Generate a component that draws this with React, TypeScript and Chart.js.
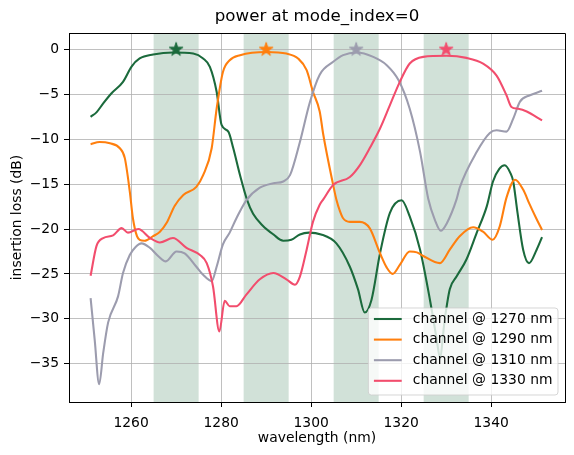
import React, { useEffect, useRef } from 'react';
import { Chart, registerables } from 'chart.js';

Chart.register(...registerables);

const FONT = "'DejaVu Sans', 'Liberation Sans', sans-serif";

// axis limits and ticks
const xLimits = [1246.2, 1356.4];
const yLimits = [-39.27, 1.84];
const xTicks = [1260, 1280, 1300, 1320, 1340];
const yTicks = [0, -5, -10, -15, -20, -25, -30, -35];

// shaded channel bands (nm)
const bandStarts = [1265, 1285, 1305, 1325];
const bandEnds = [1275, 1295, 1315, 1335];

// channel centres and marker values
const channelCenters = [1270, 1290, 1310, 1330];
const markerValues = [0, 0, 0, 0];
const seriesLabels = ['channel @ 1270 nm', 'channel @ 1290 nm', 'channel @ 1310 nm', 'channel @ 1330 nm'];
const seriesColors = ['#1b6a3c', '#ff7f0e', '#9c9cae', '#f24d6d'];

// series: channel @ 1270 nm
const wl1270 = [1251, 1252.3, 1253.8, 1255.6, 1258.2, 1260.1, 1261.9, 1264.9, 1269.3, 1273.8, 1276, 1277.5, 1279, 1280.1, 1281.6, 1282.7, 1284.2, 1285.8, 1287.1, 1289.2, 1291.6, 1293.8, 1295.6, 1297.5, 1299.5, 1302.2, 1305.6, 1308.6, 1310.4, 1311.9, 1313.4, 1315.3, 1317.5, 1320.1, 1321.9, 1324.2, 1326.4, 1327.9, 1328.6, 1329.7, 1330.8, 1332.3, 1334.5, 1336.8, 1339, 1340.4, 1341.8, 1343, 1344.3, 1344.9, 1345.8, 1347.1, 1348.4, 1350.1, 1351.3];
const il1270 = [-7.5, -7.0, -6.0, -4.9, -3.6, -1.9, -1.0, -0.56, -0.33, -0.45, -1.0, -1.93, -4.7, -8.4, -9.15, -11.0, -14.0, -16.8, -18.3, -19.6, -20.6, -21.3, -21.2, -20.6, -20.4, -20.6, -21.6, -24.2, -26.7, -29.3, -27.9, -22.7, -18.2, -16.8, -18.6, -22.3, -27.9, -32.3, -34.3, -30.0, -26.7, -25.3, -23.4, -20.4, -17.5, -14.7, -13.3, -12.9, -13.8, -14.7, -18.0, -22.3, -23.8, -22.3, -20.9];

// series: channel @ 1290 nm
const wl1290 = [1251, 1253, 1255.3, 1257.5, 1258.6, 1259.7, 1260.4, 1261.3, 1261.9, 1263, 1264.9, 1266.4, 1267.9, 1269.7, 1271.6, 1274.5, 1276, 1277.9, 1279, 1280.4, 1281.9, 1284.2, 1290.1, 1294.5, 1297.1, 1299, 1300.4, 1301.9, 1302.7, 1304.9, 1305.6, 1306.4, 1307.1, 1308.6, 1310.8, 1313, 1315.3, 1316.8, 1318.1, 1319.7, 1321.9, 1323.5, 1324.9, 1328.6, 1330.8, 1333, 1336, 1338.2, 1340.3, 1341.9, 1343.4, 1345.3, 1347.1, 1348.5, 1350, 1351.3];
const il1290 = [-10.56, -10.3, -10.45, -11.0, -12.1, -15.8, -18.8, -20.8, -21.2, -21.3, -20.8, -20.3, -19.3, -17.4, -16.2, -15.3, -14.0, -11.0, -6.6, -2.5, -1.19, -0.63, -0.27, -0.45, -1.0, -2.3, -4.7, -6.9, -9.5, -15.1, -16.7, -18.0, -18.8, -19.2, -19.2, -19.9, -22.7, -24.3, -25.0, -24.0, -22.5, -22.6, -23.0, -23.8, -22.3, -20.8, -19.8, -20.3, -21.2, -19.7, -16.5, -14.5, -15.6, -17.2, -18.8, -20.1];

// series: channel @ 1310 nm
const wl1310 = [1251, 1251.9, 1252.9, 1253.8, 1254.9, 1257.1, 1258.2, 1259.7, 1261, 1262.3, 1264.2, 1266, 1267.7, 1270.1, 1271.9, 1274.5, 1276, 1277.9, 1279, 1280.4, 1281.9, 1283.4, 1285.6, 1288.6, 1291.6, 1293.8, 1295.3, 1297.5, 1299.7, 1301.9, 1304.9, 1307.1, 1310.1, 1313.8, 1316.8, 1319.4, 1321.9, 1324.2, 1326, 1327.5, 1328.8, 1330.1, 1332.3, 1333, 1336.8, 1339.7, 1341.2, 1343.4, 1344.9, 1346.4, 1348.6, 1351.3];
const il1310 = [-27.7, -32.3, -37.3, -33.8, -30.4, -27.5, -24.9, -22.9, -22.0, -21.6, -22.1, -23.0, -23.6, -22.5, -22.7, -24.2, -25.1, -25.8, -24.2, -21.7, -20.4, -18.8, -16.8, -15.4, -14.9, -14.7, -14.0, -10.3, -5.9, -2.8, -1.37, -0.63, -0.33, -0.82, -1.74, -3.4, -6.6, -11.4, -16.6, -19.0, -20.2, -19.4, -16.7, -15.4, -11.4, -9.3, -9.0, -9.15, -7.7, -5.8, -5.1, -4.6];

// series: channel @ 1330 nm
const wl1330 = [1251, 1252.3, 1253.8, 1256, 1257.9, 1259.3, 1261.6, 1264.2, 1266.4, 1269.3, 1272.3, 1275.3, 1276.8, 1278.2, 1279.6, 1280.8, 1281.9, 1283.4, 1285.6, 1288.6, 1291.6, 1294.5, 1296.4, 1297.5, 1299, 1300.4, 1301.9, 1302.7, 1304.9, 1308.6, 1310.8, 1313, 1315.3, 1317.5, 1319.7, 1321.9, 1324.9, 1330.1, 1334.5, 1338.2, 1341.2, 1343.4, 1344.5, 1346, 1347.9, 1351.3];
const il1330 = [-25.2, -21.9, -21.0, -20.7, -19.9, -20.4, -20.0, -21.0, -21.5, -21.0, -22.1, -22.9, -23.8, -26.4, -31.4, -28.0, -28.6, -28.6, -27.3, -25.6, -24.9, -25.6, -26.2, -25.3, -22.3, -19.2, -17.3, -16.7, -15.1, -14.2, -12.9, -11.0, -8.8, -6.2, -3.6, -1.56, -0.82, -0.7, -0.93, -1.56, -2.9, -5.1, -6.4, -6.6, -6.9, -7.9];

const seriesX = [wl1270, wl1290, wl1310, wl1330];
const seriesY = [il1270, il1290, il1310, il1330];

function makeStar(color: string): HTMLCanvasElement {
  const size = 18;
  const c = document.createElement('canvas');
  c.width = size;
  c.height = size;
  const ctx = c.getContext('2d')!;
  const R = 7.2;
  const r = R * 0.382;
  const cx = size / 2;
  const cy = size / 2;
  ctx.beginPath();
  for (let i = 0; i < 10; i++) {
    const rad = i % 2 === 0 ? R : r;
    const a = -Math.PI / 2 + (i * Math.PI) / 5;
    const px = cx + rad * Math.cos(a);
    const py = cy + rad * Math.sin(a);
    if (i === 0) ctx.moveTo(px, py);
    else ctx.lineTo(px, py);
  }
  ctx.closePath();
  ctx.fillStyle = color;
  ctx.fill();
  ctx.lineWidth = 1;
  ctx.strokeStyle = color;
  ctx.stroke();
  return c;
}

const bandPlugin = {
  id: 'bands',
  beforeDraw(chart: any) {
    const { ctx, chartArea, scales } = chart;
    ctx.save();
    ctx.fillStyle = 'rgba(27,106,60,0.2)';
    for (let i = 0; i < bandStarts.length; i++) {
      const x0 = scales.x.getPixelForValue(bandStarts[i]);
      const x1 = scales.x.getPixelForValue(bandEnds[i]);
      ctx.fillRect(x0, chartArea.top, x1 - x0, chartArea.bottom - chartArea.top);
    }
    ctx.restore();
  },
};

const framePlugin = {
  id: 'frame',
  afterDraw(chart: any) {
    const { ctx, chartArea } = chart;
    ctx.save();
    // top & right spines
    ctx.strokeStyle = '#000';
    ctx.lineWidth = 1;
    ctx.beginPath();
    ctx.moveTo(Math.round(chartArea.left) + 0.5, Math.round(chartArea.top) + 0.5);
    ctx.lineTo(Math.round(chartArea.right) + 0.5, Math.round(chartArea.top) + 0.5);
    ctx.lineTo(Math.round(chartArea.right) + 0.5, Math.round(chartArea.bottom) + 0.5);
    ctx.stroke();

    // title
    ctx.fillStyle = '#000';
    ctx.font = `16.67px ${FONT}`;
    ctx.textAlign = 'center';
    ctx.textBaseline = 'alphabetic';
    ctx.fillText('power at mode_index=0', (chartArea.left + chartArea.right) / 2, chartArea.top - 12);

    // legend
    const fs = 13.89;
    ctx.font = `${fs}px ${FONT}`;
    let tw = 0;
    seriesLabels.forEach((l) => (tw = Math.max(tw, ctx.measureText(l).width)));
    const pad = 5.56;
    const handle = 27.8;
    const gap = 11.1;
    const rowH = 20.6;
    const boxW = pad + handle + gap + tw + pad;
    const boxH = 87;
    const bx = chartArea.right - 7 - boxW;
    const by = chartArea.bottom - 7 - boxH;
    ctx.beginPath();
    const rr = 3;
    ctx.moveTo(bx + rr, by);
    ctx.lineTo(bx + boxW - rr, by);
    ctx.arcTo(bx + boxW, by, bx + boxW, by + rr, rr);
    ctx.lineTo(bx + boxW, by + boxH - rr);
    ctx.arcTo(bx + boxW, by + boxH, bx + boxW - rr, by + boxH, rr);
    ctx.lineTo(bx + rr, by + boxH);
    ctx.arcTo(bx, by + boxH, bx, by + boxH - rr, rr);
    ctx.lineTo(bx, by + rr);
    ctx.arcTo(bx, by, bx + rr, by, rr);
    ctx.closePath();
    ctx.fillStyle = 'rgba(255,255,255,0.8)';
    ctx.fill();
    ctx.strokeStyle = 'rgba(204,204,204,0.8)';
    ctx.lineWidth = 1;
    ctx.stroke();
    ctx.textAlign = 'left';
    ctx.textBaseline = 'middle';
    seriesLabels.forEach((l, i) => {
      const cy = by + 11 + i * rowH;
      ctx.strokeStyle = seriesColors[i];
      ctx.lineWidth = 2.08;
      ctx.beginPath();
      ctx.moveTo(bx + pad, cy);
      ctx.lineTo(bx + pad + handle, cy);
      ctx.stroke();
      ctx.fillStyle = '#000';
      ctx.fillText(l, bx + pad + handle + gap, cy);
    });
    ctx.restore();
  },
};

function fmtY(v: number): string {
  return v < 0 ? '\u2212' + String(-v) : String(v);
}

export default function App() {
  const ref = useRef<HTMLCanvasElement | null>(null);
  useEffect(() => {
    if (!ref.current) return;
    const lineSets = seriesX.map((xs, i) => ({
      label: seriesLabels[i],
      data: xs.map((x, j) => ({ x, y: seriesY[i][j] })),
      borderColor: seriesColors[i],
      backgroundColor: seriesColors[i],
      borderWidth: 2.08,
      pointRadius: 0,
      fill: false,
      cubicInterpolationMode: 'monotone' as const,
      order: 10 - i,
    }));
    const starSets = channelCenters.map((c, i) => ({
      label: 'marker ' + c,
      data: [{ x: c, y: markerValues[i] }],
      showLine: false,
      pointStyle: makeStar(seriesColors[i]) as any,
      pointRadius: 8,
      borderColor: seriesColors[i],
      backgroundColor: seriesColors[i],
      clip: false as any,
      order: 1,
    }));
    const tickFont = { family: FONT, size: 13.89 };
    const chart = new Chart(ref.current, {
      type: 'line',
      data: { datasets: [...lineSets, ...starSets] as any },
      options: {
        animation: false,
        responsive: false,
        devicePixelRatio: 1,
        events: [],
        layout: { padding: { left: 0, right: 9, top: 33, bottom: 0 } },
        plugins: { legend: { display: false }, title: { display: false }, tooltip: { enabled: false } },
        scales: {
          x: {
            type: 'linear',
            min: xLimits[0],
            max: xLimits[1],
            afterBuildTicks: (s: any) => {
              s.ticks = xTicks.map((v) => ({ value: v }));
            },
            afterFit: (s: any) => {
              s.height = 53;
            },
            grid: { color: '#b0b0b0', lineWidth: 0.8, tickColor: '#000', tickLength: 5, tickWidth: 1 },
            border: { color: '#000', width: 1 },
            ticks: { font: tickFont, color: '#000', padding: 8, maxRotation: 0, autoSkip: false, callback: (v: any) => String(v) },
            title: { display: true, text: 'wavelength (nm)', font: tickFont, color: '#000', padding: { top: 0, bottom: 8 } },
          },
          y: {
            type: 'linear',
            min: yLimits[0],
            max: yLimits[1],
            afterBuildTicks: (s: any) => {
              s.ticks = yTicks.map((v) => ({ value: v }));
            },
            afterFit: (s: any) => {
              s.width = 69;
            },
            grid: { color: '#b0b0b0', lineWidth: 0.8, tickColor: '#000', tickLength: 5, tickWidth: 1 },
            border: { color: '#000', width: 1 },
            ticks: { font: tickFont, color: '#000', padding: 5, autoSkip: false, callback: (v: any) => fmtY(Number(v)) },
            title: { display: true, text: 'insertion loss (dB)', font: tickFont, color: '#000', padding: { top: 9, bottom: 0 } },
          },
        },
      },
      plugins: [bandPlugin, framePlugin],
    });
    return () => chart.destroy();
  }, []);
  return (
    <div style={{ position: 'fixed', left: 0, top: 0, width: 574, height: 455, background: '#fff' }}>
      <canvas ref={ref} width={574} height={455} style={{ width: 574, height: 455, display: 'block' }} />
    </div>
  );
}
